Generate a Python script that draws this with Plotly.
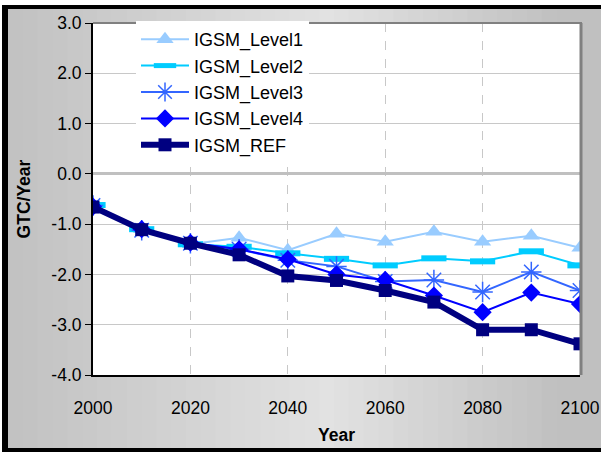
import plotly.graph_objects as go

years = [2000, 2010, 2020, 2030, 2040, 2050, 2060, 2070, 2080, 2090, 2100]
level1 = [-0.65, -1.10, -1.40, -1.27, -1.52, -1.19, -1.35, -1.15, -1.35, -1.23, -1.47]
level2 = [-0.62, -1.10, -1.40, -1.45, -1.58, -1.69, -1.82, -1.68, -1.74, -1.54, -1.82]
level3 = [-0.63, -1.12, -1.38, -1.50, -1.72, -1.84, -2.14, -2.11, -2.35, -1.95, -2.32]
level4 = [-0.65, -1.10, -1.37, -1.50, -1.70, -2.00, -2.11, -2.42, -2.75, -2.36, -2.59]
ref = [-0.66, -1.11, -1.38, -1.61, -2.03, -2.12, -2.32, -2.55, -3.10, -3.10, -3.38]

y_ticks = [3, 2, 1, 0, -1, -2, -3, -4]
y_labels = ["3.0", "2.0", "1.0", "0.0", "-1.0", "-2.0", "-3.0", "-4.0"]
x_ticks = [2000, 2020, 2040, 2060, 2080, 2100]
x_labels = ["2000", "2020", "2040", "2060", "2080", "2100"]

FONT = "Liberation Sans, Arial, sans-serif"

fig = go.Figure()
fig.add_trace(go.Scatter(x=years, y=level1, name="IGSM_Level1", mode="lines+markers",
                         line=dict(color="#99CCFF", width=2),
                         marker=dict(symbol="triangle-up", size=15, color="#99CCFF")))
fig.add_trace(go.Scatter(x=years, y=level2, name="IGSM_Level2", mode="lines+markers",
                         line=dict(color="#00CCFF", width=2),
                         marker=dict(symbol="line-ew", size=18, color="#00CCFF",
                                     line=dict(color="#00CCFF", width=6))))
fig.add_trace(go.Scatter(x=years, y=level3, name="IGSM_Level3", mode="lines+markers",
                         line=dict(color="#3366FF", width=2),
                         marker=dict(symbol="asterisk", size=17, color="#3366FF",
                                     line=dict(color="#3366FF", width=1.5))))
fig.add_trace(go.Scatter(x=years, y=level4, name="IGSM_Level4", mode="lines+markers",
                         line=dict(color="#0000FF", width=2),
                         marker=dict(symbol="diamond", size=14, color="#0000FF")))
fig.add_trace(go.Scatter(x=years, y=ref, name="IGSM_REF", mode="lines+markers",
                         line=dict(color="#000080", width=6),
                         marker=dict(symbol="square", size=13, color="#000080")))

L, R, T, B = 93, 580, 23, 375
W, H = 601, 452

def px_x(p):
    return (p - L) / (R - L)

def px_y(p):
    return (B - p) / (B - T)

shapes = []
n = 40
x0p, x1p = 8, 601
for i in range(n):
    a = x0p + (x1p - x0p) * i / n
    b = x0p + (x1p - x0p) * (i + 1) / n + 1
    t = (a + b) / 2 / W
    if t < 0.55:
        v = 192 + (226 - 192) * (t / 0.55)
    else:
        v = 226 - (226 - 192) * min(1, (t - 0.55) / 0.38)
    v = int(round(v))
    shapes.append(dict(type="rect", xref="paper", yref="paper", layer="below",
                       x0=px_x(a), x1=px_x(b), y0=px_y(448), y1=px_y(9),
                       line=dict(width=0), fillcolor=f"rgb({v},{v},{v})"))
shapes.append(dict(type="rect", xref="paper", yref="paper", layer="below",
                   x0=0, x1=1, y0=0, y1=1, line=dict(width=0), fillcolor="white"))
shapes.append(dict(type="rect", xref="paper", yref="paper", layer="below",
                   x0=px_x(2), x1=px_x(8), y0=px_y(452), y1=px_y(5),
                   line=dict(width=0), fillcolor="black"))
shapes.append(dict(type="rect", xref="paper", yref="paper", layer="below",
                   x0=px_x(2), x1=px_x(601), y0=px_y(9), y1=px_y(5),
                   line=dict(width=0), fillcolor="black"))
shapes.append(dict(type="rect", xref="paper", yref="paper", layer="below",
                   x0=px_x(2), x1=px_x(601), y0=px_y(452), y1=px_y(448),
                   line=dict(width=0), fillcolor="black"))
shapes.append(dict(type="line", xref="paper", yref="paper", layer="above",
                   x0=0, x1=px_x(582), y0=1, y1=1, line=dict(color="#808080", width=2)))
shapes.append(dict(type="line", xref="paper", yref="paper", layer="above",
                   x0=px_x(581), x1=px_x(581), y0=0, y1=1, line=dict(color="#808080", width=3)))

fig.update_layout(
    width=W, height=H,
    margin=dict(l=L, r=W - R, t=T, b=H - B, autoexpand=False),
    paper_bgcolor="white", plot_bgcolor="rgba(0,0,0,0)",
    font=dict(family=FONT, size=17.5, color="black"),
    shapes=shapes,
    showlegend=True,
    legend=dict(x=px_x(136), y=px_y(21), xanchor="left", yanchor="top",
                bgcolor="white", borderwidth=0, font=dict(size=18),
                itemwidth=48, tracegroupgap=0),
    xaxis=dict(range=[2000, 2100], tickvals=x_ticks, ticktext=x_labels,
               showgrid=True, gridcolor="#C8C8C8", griddash="dash", gridwidth=1,
               showline=True, linecolor="black", linewidth=2, automargin=False,
               ticks="", ticklabelstandoff=16, zeroline=False,
               title=dict(text="<b>Year</b>", font=dict(size=17.5), standoff=12)),
    yaxis=dict(range=[-4, 3], tickvals=y_ticks, ticktext=y_labels,
               showgrid=True, gridcolor="#C8C8C8", gridwidth=1,
               zeroline=True, zerolinecolor="#C0C0C0", zerolinewidth=3,
               showline=True, linecolor="black", linewidth=2, automargin=False,
               ticks="outside", ticklen=6, tickcolor="black", tickwidth=1,
               ticklabelstandoff=0,
               title=dict(text="<b>GTC/Year</b>", font=dict(size=17.5), standoff=16)),
)

post = (
    "var st=document.createElement('style');"
    "st.textContent='html,body{margin:0!important;padding:0!important;overflow:hidden!important}';"
    "document.head.appendChild(st);"
)

fig.write_html("out.html", config={"displayModeBar": False}, post_script=post)
